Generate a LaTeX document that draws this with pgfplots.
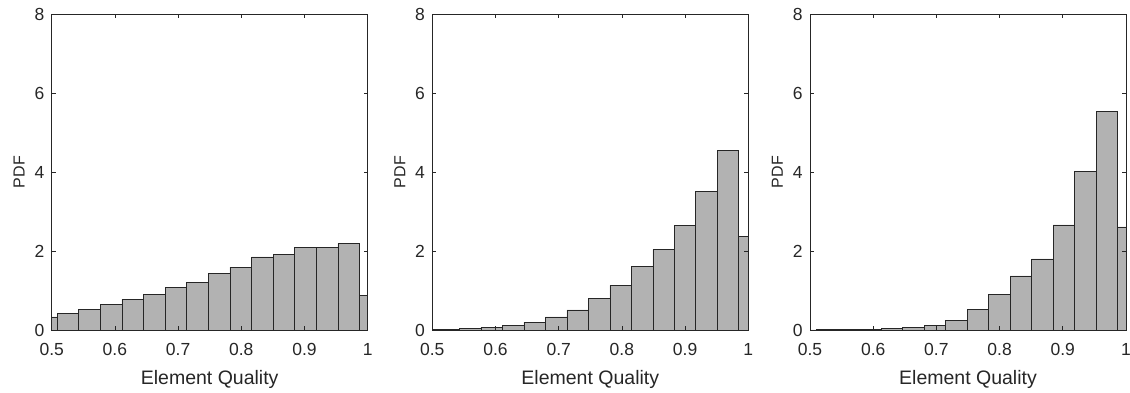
\documentclass[border=0pt]{standalone}
\usepackage{fontspec}
\setmainfont{Liberation Sans}
\usepackage{pgfplots}
\pgfplotsset{compat=1.18}
\definecolor{axc}{RGB}{38,38,38}
\definecolor{barc}{RGB}{178,178,178}
\pgfplotsset{hist/.style={
  scale only axis, width=316pt, height=316pt,
  xmin=0.5, xmax=1, ymin=0, ymax=8,
  xtick={0.5,0.6,0.7,0.8,0.9,1}, xticklabels={0.5,0.6,0.7,0.8,0.9,1},
  ytick={0,2,4,6,8}, yticklabels={0,2,4,6,8},
  tick align=inside, major tick length=4pt,
  axis line style={axc, line width=0.7pt}, tick style={axc, line width=0.7pt},
  ticklabel style={font=\fontsize{17.5}{17.5}\selectfont, text=axc},
  xticklabel style={anchor=base, yshift=-25pt},
  yticklabel style={anchor=east, inner sep=0pt, xshift=-7.2pt},
  /pgf/number format/assume math mode=true,
  xlabel={Element Quality}, ylabel={PDF},
  xlabel style={font=\fontsize{19.5}{19.5}\selectfont, text=axc, at={(axis description cs:0.5,0)}, anchor=base, yshift=-54.3pt},
  ylabel style={font=\fontsize{16}{16}\selectfont, text=axc, at={(axis description cs:-0.1029,0.5)}, anchor=center},
  axis on top,
}}
\begin{document}
\begin{tikzpicture}
\useasboundingbox (-51.7pt,-62pt) rectangle (1078.3pt,330pt);
\begin{axis}[hist, at={(0pt,0pt)}]
\addplot[ybar interval, fill=barc, draw=black!85, line width=0.7pt] coordinates {
(0.4742,0.33) (0.5084,0.415) (0.5426,0.52) (0.5768,0.65) (0.6110,0.78) (0.6452,0.91)
(0.6794,1.08) (0.7136,1.20) (0.7478,1.44) (0.7820,1.59) (0.8162,1.85) (0.8504,1.92)
(0.8846,2.10) (0.9188,2.08) (0.9530,2.19) (0.9872,0.87) (1.0214,0.87)};
\end{axis}
\begin{axis}[hist, at={(380.6pt,0pt)}]
\addplot[ybar interval, fill=barc, draw=black!85, line width=0.7pt] coordinates {
(0.475,0.01) (0.509,0.02) (0.543,0.03) (0.577,0.07) (0.611,0.11) (0.645,0.20)
(0.679,0.33) (0.713,0.51) (0.747,0.79) (0.781,1.13) (0.815,1.60) (0.849,2.04)
(0.883,2.65) (0.917,3.50) (0.951,4.55) (0.985,2.36) (1.019,2.36)};
\end{axis}
\begin{axis}[hist, at={(758.3pt,0pt)}]
\addplot[ybar interval, fill=barc, draw=black!85, line width=0.7pt] coordinates {
(0.4768,0.003) (0.5108,0.004) (0.5448,0.012) (0.5788,0.015) (0.6128,0.035) (0.6468,0.065)
(0.6808,0.12) (0.7148,0.25) (0.7488,0.53) (0.7828,0.90) (0.8168,1.37) (0.8508,1.80)
(0.8848,2.66) (0.9188,4.02) (0.9528,5.53) (0.9868,2.61) (1.0208,2.61)};
\end{axis}
\end{tikzpicture}
\end{document}
